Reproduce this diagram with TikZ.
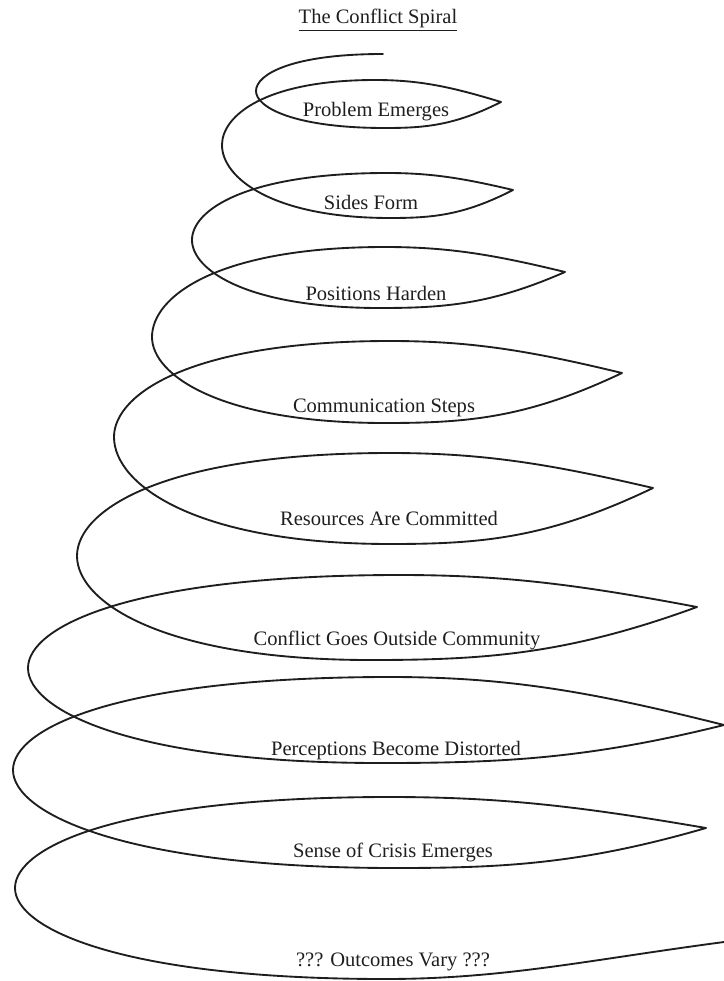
\documentclass[tikz,border=0pt]{standalone}
\usepackage{fontspec}
\setmainfont{Liberation Serif}
\usepackage{tikz}
\usetikzlibrary{calc}
\definecolor{ink}{HTML}{1E1E1E}
\tikzset{
  spiral/.style={ink, line width=1.4pt, line join=round, line cap=round},
  stage/.style={ink, font=\fontsize{15.4}{18}\selectfont, inner sep=0pt}
}

\begin{document}
\begin{tikzpicture}[x=0.75pt, y=-0.75pt]
  \useasboundingbox (0,0) rectangle (724,981);
  \node[stage] (title) at (378,20) {\underline{The Conflict Spiral}};
  % one turn: top of lens k, round the left, bottom of lens k+1, its tip, back to its top
  \foreach \tx/\ty/\lx/\ly/\bx/\by/\px/\py/\ux/\uy in {
      383/54/256/91/385/128/501/102/375/80,
      375/80/222/145/390/218/513/190/387/173,
      387/173/192/240/380/308/565/272/385/247,
      385/247/152/337/385/423/622/373/390/341,
      390/341/114/437/390/544/653/488/390/453,
      390/453/77/556/370/660/697/607/400/575,
      400/575/28/668/380/763/724/725/390/677,
      390/677/13/770/395/868/706/828/390/797}{
    \draw[spiral] (\tx,\ty)
      .. controls ({\tx-0.72*(\tx-\lx)},\ty) and (\lx,{\ly-0.45*(\ly-\ty)}) .. (\lx,\ly)
      .. controls (\lx,{\ly+0.45*(\by-\ly)}) and ({\bx-0.7*(\bx-\lx)},\by) .. (\bx,\by)
      .. controls ({\bx+0.35*(\px-\bx)},\by) and ({\px-0.4*(\px-\bx)},{\py+0.9*(\by-\py)}) .. (\px,\py)
      .. controls ({\px-0.4*(\px-\ux)},{\py-0.7*(\py-\uy)}) and ({\ux+0.35*(\px-\ux)},\uy) .. (\ux,\uy);
  }
  % last turn runs off the right edge
  \draw[spiral] (390,797)
    .. controls (115,797) and (15,848) .. (15,888)
    .. controls (15,929) and (123,979) .. (385,979)
    .. controls (504,979) and (588,960) .. (724,942);

  \node[stage] (pe) at (376,112) {Problem Emerges};
  \node[stage] (sf) at (371,202) {Sides Form};
  \node[stage] (ph) at (376,293) {Positions Harden};
  \node[stage] (cs) at (384,408) {Communication Steps};
  \node[stage] (rc) at (389,518) {Resources Are Committed};
  \node[stage] (cg) at (397,640) {Conflict Goes Outside Community};
  \node[stage] (pd) at (396,751) {Perceptions Become Distorted};
  \node[stage] (sc) at (393,852) {Sense of Crisis Emerges};
  \node[stage] (ov) at (393,962) {??? Outcomes Vary ???};
\end{tikzpicture}
\end{document}
